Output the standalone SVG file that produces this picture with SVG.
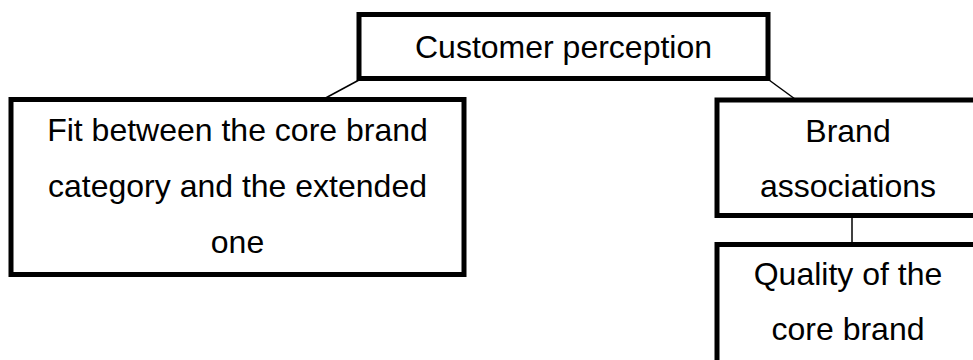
<svg xmlns="http://www.w3.org/2000/svg" width="973" height="360" viewBox="0 0 973 360">
  <style>
    .box { fill: #ffffff; stroke: #000000; stroke-width: 5; }
    .link { fill: none; stroke: #000000; stroke-width: 1.5; }
    .label { font-family: "Liberation Sans", Arial, sans-serif; font-size: 32px; fill: #000000; text-anchor: middle; }
  </style>
  <rect x="0" y="0" width="973" height="360" fill="#ffffff"/>

  <g id="connectors">
    <line class="link" x1="359" y1="80" x2="320" y2="101"/>
    <line class="link" x1="769" y1="80" x2="795" y2="99"/>
    <line class="link" x1="852" y1="218" x2="852" y2="243"/>
  </g>

  <g id="customer-perception">
    <rect class="box" x="359" y="14.5" width="409" height="64"/>
    <text class="label" x="563.5" y="57.5">Customer perception</text>
  </g>

  <g id="category-fit">
    <rect class="box" x="11" y="99.5" width="453" height="175"/>
    <text class="label" x="237.5" y="141">Fit between the core brand</text>
    <text class="label" x="237.5" y="197">category and the extended</text>
    <text class="label" x="237.5" y="253">one</text>
  </g>

  <g id="brand-associations">
    <rect class="box" x="717" y="100" width="265" height="115.5"/>
    <text class="label" x="848" y="141.5">Brand</text>
    <text class="label" x="848" y="197">associations</text>
  </g>

  <g id="core-brand-quality">
    <rect class="box" x="717" y="244.5" width="265" height="130"/>
    <text class="label" x="848" y="285">Quality of the</text>
    <text class="label" x="848" y="340">core brand</text>
  </g>
</svg>
